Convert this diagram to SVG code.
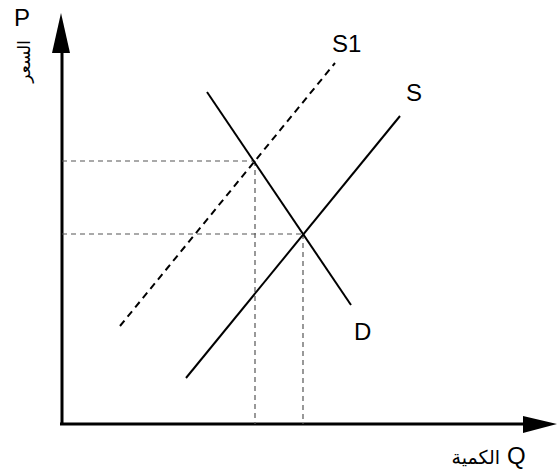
<svg xmlns="http://www.w3.org/2000/svg" width="557" height="472" viewBox="0 0 557 472">
<style>
.lbl{font-family:"Liberation Sans",Arial,sans-serif;font-size:24px;fill:#000}
.ar{font-family:"DejaVu Sans","Noto Sans",sans-serif;fill:#000}
.axis{stroke:#000;stroke-width:3;fill:none}
.curve{stroke:#000;stroke-width:2;fill:none}
.guide{stroke:#555;stroke-width:1.2;stroke-dasharray:5,4;fill:none}
</style>
<rect width="557" height="472" fill="#fff"/>
<g id="axes">
<line class="axis" x1="62" y1="425" x2="62" y2="48"/>
<polygon points="61,13 52,53 70,53" fill="#000"/>
<line class="axis" x1="60" y1="424" x2="528" y2="424"/>
<polygon points="557,424 523,416 523,433" fill="#000"/>
<text class="lbl" x="14" y="26">P</text>
<text class="ar" font-size="17" transform="translate(30,40) rotate(-90)" text-anchor="end">السعر</text>
<text class="lbl" x="507" y="464" font-size="22">Q</text>
<text class="ar" x="500" y="464" font-size="19" text-anchor="end">الكمية</text>
</g>
<g id="connectors">
<line class="guide" x1="62" y1="161" x2="255" y2="161"/>
<line class="guide" x1="62" y1="234" x2="303" y2="234"/>
<line class="guide" x1="255" y1="161" x2="255" y2="424"/>
<line class="guide" x1="303" y1="234" x2="303" y2="424"/>
</g>
<g id="D">
<line class="curve" x1="207" y1="92" x2="351" y2="305"/>
<text class="lbl" x="354" y="340">D</text>
</g>
<g id="S">
<line class="curve" x1="186" y1="378" x2="400" y2="116"/>
<text class="lbl" x="406" y="101">S</text>
</g>
<g id="S1">
<line class="curve" x1="120" y1="326" x2="335" y2="63" stroke-dasharray="7,5"/>
<text class="lbl" x="332" y="52">S1</text>
</g>
</svg>
